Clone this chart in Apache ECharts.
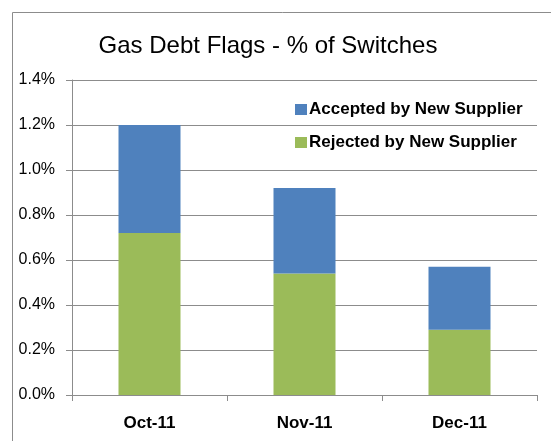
<!DOCTYPE html>
<html>
<head>
<meta charset="utf-8">
<script src="https://cdn.jsdelivr.net/npm/echarts@6/dist/echarts.min.js"></script>
<style>
  html, body { margin: 0; padding: 0; background: #fff; }
  #chart { width: 551px; height: 441px; }
</style>
</head>
<body>
<div id="chart"></div>
<script>
// Monthly gas debt flags as a share of all switches (%)
const months = ['Oct-11', 'Nov-11', 'Dec-11'];
const rejectedByNewSupplier = [0.72, 0.54, 0.29];
const acceptedByNewSupplier = [0.48, 0.38, 0.28];
const yTicks = [0, 0.2, 0.4, 0.6, 0.8, 1.0, 1.2, 1.4];

const seriesNames = ['Accepted by New Supplier', 'Rejected by New Supplier'];
const font = 'Liberation Sans, Arial, sans-serif';

const chart = echarts.init(document.getElementById('chart'), null, { renderer: 'canvas' });

chart.setOption({
  backgroundColor: '#ffffff',
  animation: false,
  title: {
    text: 'Gas Debt Flags - % of Switches',
    left: 263,
    top: 29,
    textAlign: 'center',
    textStyle: { fontFamily: font, fontSize: 24, fontWeight: 'normal', color: '#000' }
  },
  graphic: [{
    type: 'rect',
    shape: { x: 12.5, y: 12.5, width: 600, height: 500 },
    style: { fill: 'none', stroke: '#8c8c8c', lineWidth: 1 },
    silent: true
  }],
  legend: {
    data: seriesNames,
    orient: 'vertical',
    left: 290,
    top: 96,
    itemWidth: 12,
    itemHeight: 11,
    itemGap: 16,
    icon: 'rect',
    textStyle: { fontFamily: font, fontSize: 17, fontWeight: 'bold', color: '#000', padding: [0, 0, 0, -3] }
  },
  grid: { left: 72, right: 14, top: 80, bottom: 46 },
  xAxis: {
    type: 'category',
    data: months,
    boundaryGap: true,
    axisLine: { lineStyle: { color: '#8c8c8c', width: 1 } },
    axisTick: { show: true, length: 6, lineStyle: { color: '#8c8c8c' } },
    axisLabel: { fontFamily: font, fontSize: 17, fontWeight: 'bold', color: '#000', margin: 20 }
  },
  yAxis: {
    type: 'value',
    min: yTicks[0],
    max: yTicks[yTicks.length - 1],
    interval: 0.2,
    axisLine: { show: true, lineStyle: { color: '#8c8c8c', width: 1 } },
    axisTick: { show: true, length: 6, lineStyle: { color: '#8c8c8c' } },
    splitLine: { show: true, lineStyle: { color: '#8c8c8c', width: 1 } },
    axisLabel: {
      fontFamily: font, fontSize: 16, color: '#000', margin: 17,
      formatter: v => v.toFixed(1) + '%'
    }
  },
  series: [
    {
      name: 'Rejected by New Supplier',
      type: 'bar',
      stack: 'flags',
      barWidth: 62,
      data: rejectedByNewSupplier,
      itemStyle: { color: '#9bbb59' }
    },
    {
      name: 'Accepted by New Supplier',
      type: 'bar',
      stack: 'flags',
      barWidth: 62,
      data: acceptedByNewSupplier,
      itemStyle: { color: '#4f81bd' }
    }
  ]
});
</script>
</body>
</html>
